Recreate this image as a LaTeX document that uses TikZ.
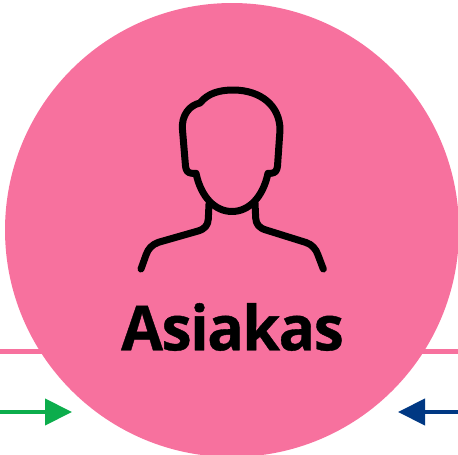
\documentclass[tikz,border=0pt]{standalone}
\usepackage{fontspec}
\setmainfont{Open Sans}
\newfontfamily\namefont[BoldFont=*,LetterSpace=-2.5,FakeBold=0.6]{Open Sans Bold}
\usetikzlibrary{arrows.meta}

\definecolor{asiakaspink}{RGB}{247,113,158}
\definecolor{arrowgreen}{RGB}{12,173,76}
\definecolor{arrowblue}{RGB}{0,56,131}

\begin{document}
\begin{tikzpicture}[x=1pt,y=-1pt,>={Triangle[length=27pt,width=26pt]},
                    main node/.style={circle,minimum size=454pt,inner sep=0pt,fill=asiakaspink},
                    rail/.style={line width=4.5pt,asiakaspink},
                    flow/.style={->,line width=4.2pt},
                    icon/.style={line width=7pt,line cap=round,line join=round}]
\useasboundingbox (0,0) rectangle (458,455);

% Free ends of the connectors
\coordinate (railleft) at (0,351.6);
\coordinate (railright) at (458,351.6);
\coordinate (greenstart) at (0,412);
\coordinate (greenend) at (72,412);
\coordinate (bluestart) at (458,412);
\coordinate (blueend) at (398,412);

% Connectors, the rail runs behind the circle
\draw[rail] (railleft) -- (railright);
\draw[flow,arrowgreen] (greenstart) -- (greenend);
\draw[flow,arrowblue] (bluestart) -- (blueend);

% Create nodes
\node[main node] (asiakas) at (232,230) {};
\node[xscale=0.98,font=\fontsize{62}{62}\namefont] (name) at (232.5,327) {Asiakas};

% Head
\draw[icon] (200,103)
  .. controls (208,93) and (220,90) .. (233,90)
  .. controls (261,90) and (280,106) .. (280,130)
  -- (277.5,166)
  .. controls (277,171) and (275,173) .. (271,173.3)
  -- (268,173.3)
  .. controls (263,197) and (249,211.5) .. (232,211.5)
  .. controls (215,211.5) and (201,197) .. (196,173.3)
  -- (192,173.3)
  .. controls (188,173) and (186,171) .. (185.5,166)
  -- (182.5,130)
  .. controls (181,115) and (190,105) .. (200,103) -- cycle;

% Shoulders
\draw[icon] (141,269) -- (146,255)
  .. controls (148,249) and (152,244.5) .. (158.5,242.3)
  -- (198,231)
  .. controls (205,229) and (208,225) .. (208.3,219)
  -- (209,204);
\draw[icon] (323.3,269) -- (318,255)
  .. controls (316,249) and (312,244.5) .. (306,242.5)
  -- (266,230)
  .. controls (259,228) and (256,224) .. (255.7,218)
  -- (255,203);
\end{tikzpicture}
\end{document}
